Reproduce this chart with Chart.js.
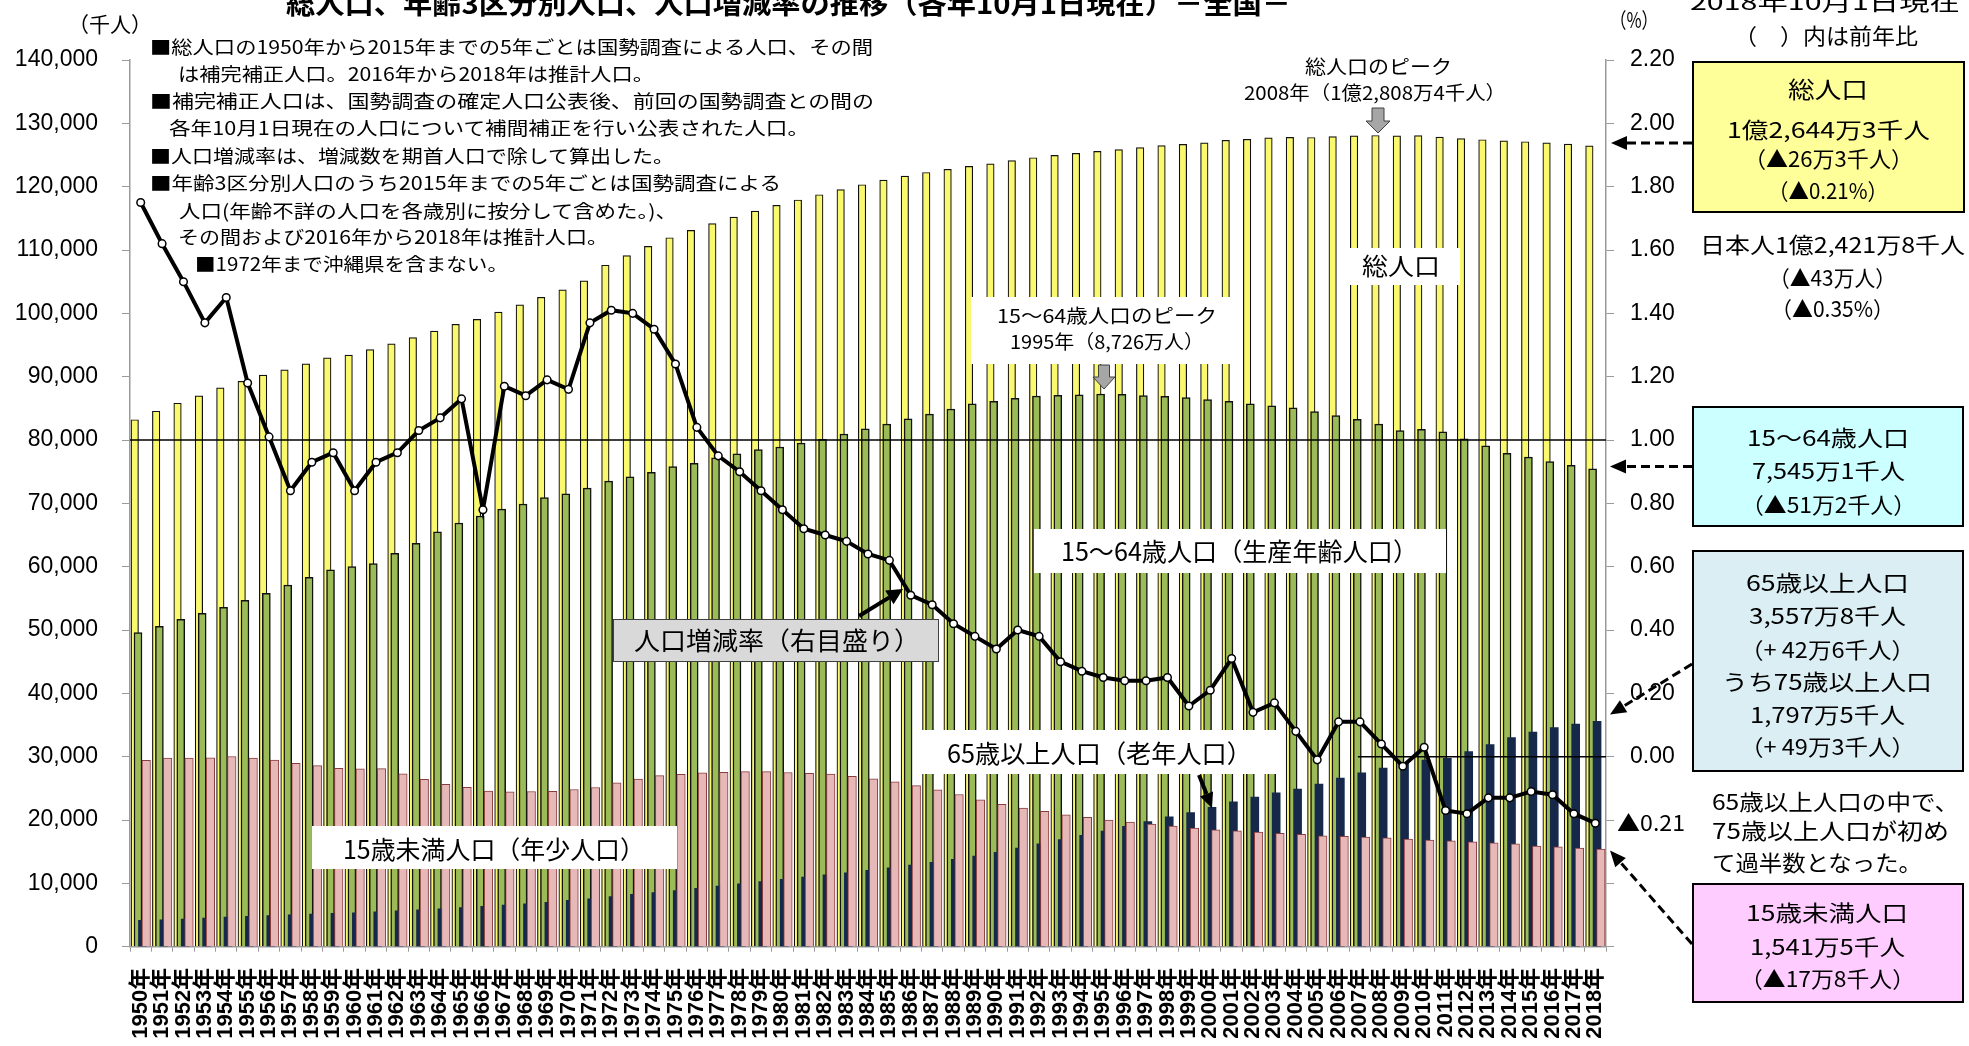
<!DOCTYPE html>
<html><head><meta charset="utf-8">
<script src="https://cdn.jsdelivr.net/npm/chart.js@4.4.1/dist/chart.umd.min.js"></script>
<style>
html,body{margin:0;padding:0;background:#fff;}
#wrap{position:relative;width:1969px;height:1046px;overflow:hidden;background:#fff;}
#c{position:absolute;left:0;top:0;z-index:0;}
.t{position:absolute;white-space:nowrap;font-family:"Noto Sans CJK JP","Noto Sans",sans-serif;color:#000;transform-origin:0 0;z-index:3;}
.box{position:absolute;box-sizing:border-box;z-index:1;}
#ov{position:absolute;left:0;top:0;z-index:2;}
</style></head>
<body><div id="wrap"><canvas id="c" width="1969" height="1046"></canvas>
<svg id="ov" width="1969" height="1046" xmlns="http://www.w3.org/2000/svg"></svg></div>
<script>
// ---------------- data ----------------
const years = [1950,1951,1952,1953,1954,1955,1956,1957,1958,1959,
  1960,1961,1962,1963,1964,1965,1966,1967,1968,1969,
  1970,1971,1972,1973,1974,1975,1976,1977,1978,1979,
  1980,1981,1982,1983,1984,1985,1986,1987,1988,1989,
  1990,1991,1992,1993,1994,1995,1996,1997,1998,1999,
  2000,2001,2002,2003,2004,2005,2006,2007,2008,2009,
  2010,2011,2012,2013,2014,2015,2016,2017,2018];
// 総人口（千人）
const totalPop = [83200,84541,85808,86981,88239,89276,90259,91088,92010,92971,
  93419,94287,95181,96156,97182,98275,99036,100196,101331,102536,
  103720,105145,107595,109104,110573,111940,113094,114165,115190,116155,
  117060,117902,118728,119536,120305,121049,121660,122239,122745,123205,
  123611,124101,124567,124938,125265,125570,125859,126157,126472,126667,
  126926,127316,127486,127694,127787,127768,127901,128033,128084,128032,
  128057,127834,127593,127414,127237,127095,126933,126706,126443];
// 15～64歳人口（千人）
const pop15to64 = [49600,50600,51700,52650,53600,54700,55800,57100,58300,59500,
  60000,60500,62100,63700,65500,66900,68000,69100,69900,70900,
  71500,72400,73500,74200,74900,75800,76300,77200,77800,78500,
  78900,79500,80100,80950,81750,82500,83350,84100,84900,85700,
  86100,86600,86950,87050,87150,87260,87200,87000,86900,86700,
  86400,86100,85700,85400,85100,84500,83850,83250,82500,81500,
  81700,81300,80200,79100,77900,77300,76600,76000,75451];
// 65歳以上人口（千人）
const pop65plus = [4155,4254,4372,4524,4661,4786,4897,5020,5157,5252,
  5350,5505,5658,5815,5986,6181,6376,6569,6773,7014,
  7331,7569,7931,8264,8563,8865,9228,9559,9921,10281,
  10647,10986,11337,11675,12047,12468,12870,13322,13785,14309,
  14895,15582,16242,16900,17585,18261,19017,19758,20508,21186,
  22005,22869,23628,24311,24876,25672,26604,27464,28216,29005,
  29484,29752,30793,31898,33000,33868,34591,35152,35578];
// 15歳未満人口（千人）
const popUnder15 = [29430,29790,29800,29840,30030,29800,29450,28970,28590,28160,
  28070,28120,27290,26420,25640,25170,24570,24440,24510,24550,
  24820,25140,25870,26470,27000,27220,27440,27520,27650,27640,
  27510,27390,27250,26900,26500,26030,25430,24750,24030,23200,
  22490,21900,21360,20840,20410,20010,19690,19370,19060,18740,
  18470,18280,18100,17900,17730,17520,17430,17290,17180,17010,
  16840,16700,16550,16390,16230,15890,15780,15590,15415];
// 人口増減率（%）
const growthRate = [1.75,1.62,1.50,1.37,1.45,1.18,1.01,0.84,0.93,0.96,
  0.84,0.93,0.96,1.03,1.07,1.13,0.78,1.17,1.14,1.19,
  1.16,1.37,1.41,1.40,1.35,1.24,1.04,0.95,0.90,0.84,
  0.78,0.72,0.70,0.68,0.64,0.62,0.51,0.48,0.42,0.38,
  0.34,0.40,0.38,0.30,0.27,0.25,0.24,0.24,0.25,0.16,
  0.21,0.31,0.14,0.17,0.08,-0.01,0.11,0.11,0.04,-0.03,
  0.03,-0.17,-0.18,-0.13,-0.13,-0.11,-0.12,-0.18,-0.21];
const yearLabels = years.map(y => y + '年');

// ---------------- chart ----------------
function pts(arr, off){ return arr.map((v,i)=>({x:i+off, y:v})); }
const numFont = 'Arial, "Liberation Sans", sans-serif';

const refLines = {
  id:'refLines',
  beforeDatasetDraw(chart, args){
    if (args.index !== 0) return;
    const {ctx, chartArea:a, scales} = chart;
    ctx.save();
    ctx.strokeStyle = '#000'; ctx.lineWidth = 1.5;
    let y = scales.y1.getPixelForValue(1);
    ctx.beginPath(); ctx.moveTo(a.left, y); ctx.lineTo(a.right, y); ctx.stroke();
    y = scales.y1.getPixelForValue(0);
    ctx.beginPath(); ctx.moveTo(scales.xb.getPixelForValue(56.9), y); ctx.lineTo(a.right, y); ctx.stroke();
    ctx.restore();
  }
};

new Chart(document.getElementById('c'), {
  type:'bar',
  data:{
    labels: yearLabels,
    datasets:[
      {type:'line', label:'人口増減率', data: growthRate.map((v,i)=>({x:i,y:v})), xAxisID:'xb', yAxisID:'y1',
       borderColor:'#000', borderWidth:4, pointRadius:3.8, pointBackgroundColor:'#fff', pointBorderColor:'#000',
       pointBorderWidth:1.5, tension:0, order:0},
      {label:'15歳未満人口', data: pts(popUnder15, 0.259), xAxisID:'xb', yAxisID:'y',
       backgroundColor:'#E6B9B8', borderColor:'#8a3c3c', borderWidth:1, barThickness:8.5, grouped:false, order:1},
      {label:'65歳以上人口', data: pts(pop65plus, 0.082), xAxisID:'xb', yAxisID:'y',
       backgroundColor:'#17294a', borderWidth:0, barThickness:8, grouped:false, order:2},
      {label:'15～64歳人口', data: pts(pop15to64, -0.126), xAxisID:'xb', yAxisID:'y',
       backgroundColor:'#9BBB59', borderColor:'#111', borderWidth:1.5, barThickness:8, grouped:false, order:3},
      {label:'総人口', data: pts(totalPop, -0.278), xAxisID:'xb', yAxisID:'y',
       backgroundColor:'#FAF86E', borderColor:'#111', borderWidth:1.2, barThickness:7.5, grouped:false, order:4}
    ]
  },
  options:{
    responsive:false, animation:false, devicePixelRatio:1,
    layout:{padding:{top:60,left:0,right:0,bottom:0}},
    plugins:{legend:{display:false}, tooltip:{enabled:false}, title:{display:false}},
    scales:{
      x:{type:'category', position:'bottom', offset:true,
         grid:{display:true, offset:true, drawOnChartArea:false, drawTicks:true, tickLength:5, color:'#9a9a9a', lineWidth:1},
         border:{display:true, color:'#9a9a9a', width:1.5},
         ticks:{autoSkip:false, maxRotation:90, minRotation:90, padding:16, color:'#000',
                font:{family:'Arial, "Liberation Sans", "Noto Sans CJK JP", sans-serif', size:22, weight:'bold'}},
         afterFit(s){ s.height = 99.3; }},
      xb:{type:'linear', display:false, min:-0.5, max:68.5, offset:false},
      y:{position:'left', min:0, max:140000,
         ticks:{stepSize:10000, padding:24, color:'#000', font:{family:numFont, size:23},
                callback:v => Number(v).toLocaleString('en-US')},
         grid:{drawOnChartArea:false, tickLength:8, color:'#9a9a9a'},
         border:{display:true, color:'#9a9a9a', width:1.5},
         afterFit(s){ s.width = 130; }},
      y1:{position:'right', min:-0.6, max:2.2,
         ticks:{stepSize:0.2, padding:16, color:'#000', font:{family:numFont, size:23},
                callback:v => (v < -0.001 ? '' : Math.abs(v).toFixed(2))},
         grid:{drawOnChartArea:false, tickLength:8, color:'#9a9a9a'},
         border:{display:true, color:'#9a9a9a', width:1.5},
         afterFit(s){ s.width = 363; }}
    }
  },
  plugins:[refLines]
});

// ---------------- annotations ----------------
const wrap = document.getElementById('wrap');
const ov = document.getElementById('ov');
function addBox(x,y,w,h,fill,border,bw){
  const d=document.createElement('div'); d.className='box';
  Object.assign(d.style,{left:x+'px',top:y+'px',width:w+'px',height:h+'px',background:fill,
    border: border ? (bw||2)+'px solid '+border : 'none'});
  wrap.appendChild(d);
}
function addText(str,o){
  const d=document.createElement('div'); d.className='t'; d.textContent=str;
  d.style.fontSize=o.size+'px'; d.style.lineHeight=o.size+'px';
  if(o.bold) d.style.fontWeight='bold';
  wrap.appendChild(d);
  const nat=d.getBoundingClientRect().width;
  const s=o.w/nat;
  const left=(o.cx!==undefined)?(o.cx-o.w/2):o.x;
  d.style.left=left+'px'; d.style.top=(o.cy-0.56*o.size)+'px';
  d.style.transform='scaleX('+s+')';
}
const NS='http://www.w3.org/2000/svg';
function svgEl(tag,attrs){const e=document.createElementNS(NS,tag);for(const k in attrs)e.setAttribute(k,attrs[k]);ov.appendChild(e);return e;}
function arrow(x1,y1,x2,y2,o){
  const dx=x2-x1,dy=y2-y1,L=Math.hypot(dx,dy),ux=dx/L,uy=dy/L;
  const bx=x2-ux*o.hl,by=y2-uy*o.hl;
  svgEl('line',{x1:x1,y1:y1,x2:bx,y2:by,stroke:'#000','stroke-width':o.w,'stroke-dasharray':o.dash||'none'});
  svgEl('polygon',{points:`${x2},${y2} ${bx-uy*o.hw},${by+ux*o.hw} ${bx+uy*o.hw},${by-ux*o.hw}`,fill:'#000'});
}
function blockDown(cx,top,sw,hw,sh,hh){
  const p=[[cx-sw/2,top],[cx+sw/2,top],[cx+sw/2,top+sh],[cx+hw/2,top+sh],[cx,top+sh+hh],[cx-hw/2,top+sh],[cx-sw/2,top+sh]];
  svgEl('polygon',{points:p.map(q=>q.join(',')).join(' '),fill:'#A6A6A6',stroke:'#404040','stroke-width':1});
}

// boxes
addBox(1692,61,273,152,'#FFFF99','#000',2);
addBox(1692,406,272,121,'#CCFFFF','#000',2);
addBox(1692,550,272,222,'#DAEEF3','#000',2);
addBox(1692,883,272,120,'#FFCCFF','#000',2);
addBox(1349,248,111,37,'#fff');
addBox(971,297,270,67,'#fff');
addBox(1034,529,412,44,'#fff');
addBox(613,619,326,43,'#D9D9D9','#404040',1.5);
addBox(920,730,357,44,'#fff');
addBox(312,826,365,43,'#fff');

// arrows
const dash={w:3,hl:16,hw:7,dash:'9 5'};
arrow(1692,143,1611,143,dash);
arrow(1692,466.5,1610,466.5,dash);
arrow(1692,664,1610,714.6,dash);
arrow(1692,944,1610,850.5,dash);
arrow(859,616,903,589,{w:4,hl:16,hw:8});
arrow(1199,775,1212,808,{w:4,hl:15,hw:7});
blockDown(1378,108,12,24,13,12);
blockDown(1104,365,11,22,12,12);

// texts
addText('総人口、年齢3区分別人口、人口増減率の推移（各年10月1日現在）－全国－',{x:286,cy:4,w:1005,size:28,bold:true});
addText('2018年10月1日現在',{x:1690,cy:1,w:270,size:22});
addText('（　）内は前年比',{x:1734,cy:35,w:184,size:22});
addText('（千人）',{x:68,cy:25,w:84,size:21});
addText('（%）',{x:1610,cy:21,w:48,size:21});

addText('■総人口の1950年から2015年までの5年ごとは国勢調査による人口、その間',{x:150,cy:47,w:723,size:18.5});
addText('は補完補正人口。2016年から2018年は推計人口。',{x:178,cy:74,w:476,size:18.5});
addText('■補完補正人口は、国勢調査の確定人口公表後、前回の国勢調査との間の',{x:150,cy:101,w:724,size:18.5});
addText('各年10月1日現在の人口について補間補正を行い公表された人口。',{x:169,cy:128,w:640,size:18.5});
addText('■人口増減率は、増減数を期首人口で除して算出した。',{x:150,cy:156,w:524,size:18.5});
addText('■年齢3区分別人口のうち2015年までの5年ごとは国勢調査による',{x:150,cy:183,w:631,size:18.5});
addText('人口(年齢不詳の人口を各歳別に按分して含めた。)、',{x:179,cy:211,w:498,size:18.5});
addText('その間および2016年から2018年は推計人口。',{x:178,cy:237,w:430,size:18.5});
addText('■1972年まで沖縄県を含まない。',{x:195,cy:264,w:313,size:18.5});

addText('総人口のピーク',{x:1305,cy:67,w:147,size:19});
addText('2008年（1億2,808万4千人）',{x:1244,cy:93,w:262,size:19});

addText('総人口',{cx:1828,cy:90,w:80,size:23});
addText('1億2,644万3千人',{cx:1828,cy:129,w:203,size:22});
addText('（▲26万3千人）',{cx:1828,cy:158,w:169,size:22});
addText('（▲0.21%）',{cx:1828,cy:190,w:120,size:22});
addText('日本人1億2,421万8千人',{x:1700,cy:244,w:265,size:22});
addText('（▲43万人）',{x:1769,cy:277,w:127,size:22});
addText('（▲0.35%）',{x:1771,cy:308,w:123,size:22});

addText('15～64歳人口',{cx:1828,cy:437,w:162,size:22});
addText('7,545万1千人',{cx:1828,cy:470.5,w:153,size:22});
addText('（▲51万2千人）',{cx:1828,cy:504,w:175,size:22});

addText('65歳以上人口',{cx:1827,cy:582,w:163,size:22});
addText('3,557万8千人',{cx:1827,cy:615.7,w:157,size:22});
addText('（+ 42万6千人）',{cx:1827,cy:649,w:175,size:22});
addText('うち75歳以上人口',{cx:1827,cy:681,w:210,size:22});
addText('1,797万5千人',{cx:1827,cy:714.6,w:155,size:22});
addText('（+ 49万3千人）',{cx:1827,cy:746,w:175,size:22});

addText('▲0.21',{x:1617,cy:822,w:68,size:22});
addText('65歳以上人口の中で、',{x:1712,cy:801,w:247,size:22});
addText('75歳以上人口が初め',{x:1712,cy:830,w:237,size:22});
addText('て過半数となった。',{x:1712,cy:862,w:210,size:22});

addText('15歳未満人口',{cx:1827,cy:912,w:162,size:22});
addText('1,541万5千人',{cx:1827,cy:946,w:155,size:22});
addText('（▲17万8千人）',{cx:1827,cy:978,w:175,size:22});

addText('総人口',{x:1362,cy:266,w:78,size:24});
addText('15～64歳人口のピーク',{x:997,cy:316,w:220,size:19});
addText('1995年（8,726万人）',{x:1010,cy:342,w:194,size:19});
addText('15～64歳人口（生産年齢人口）',{x:1061,cy:551.5,w:357,size:25});
addText('人口増減率（右目盛り）',{x:634,cy:641,w:286,size:25});
addText('65歳以上人口（老年人口）',{x:947,cy:753.5,w:305,size:25});
addText('15歳未満人口（年少人口）',{x:343,cy:849.5,w:302,size:25});
</script>
</body></html>
